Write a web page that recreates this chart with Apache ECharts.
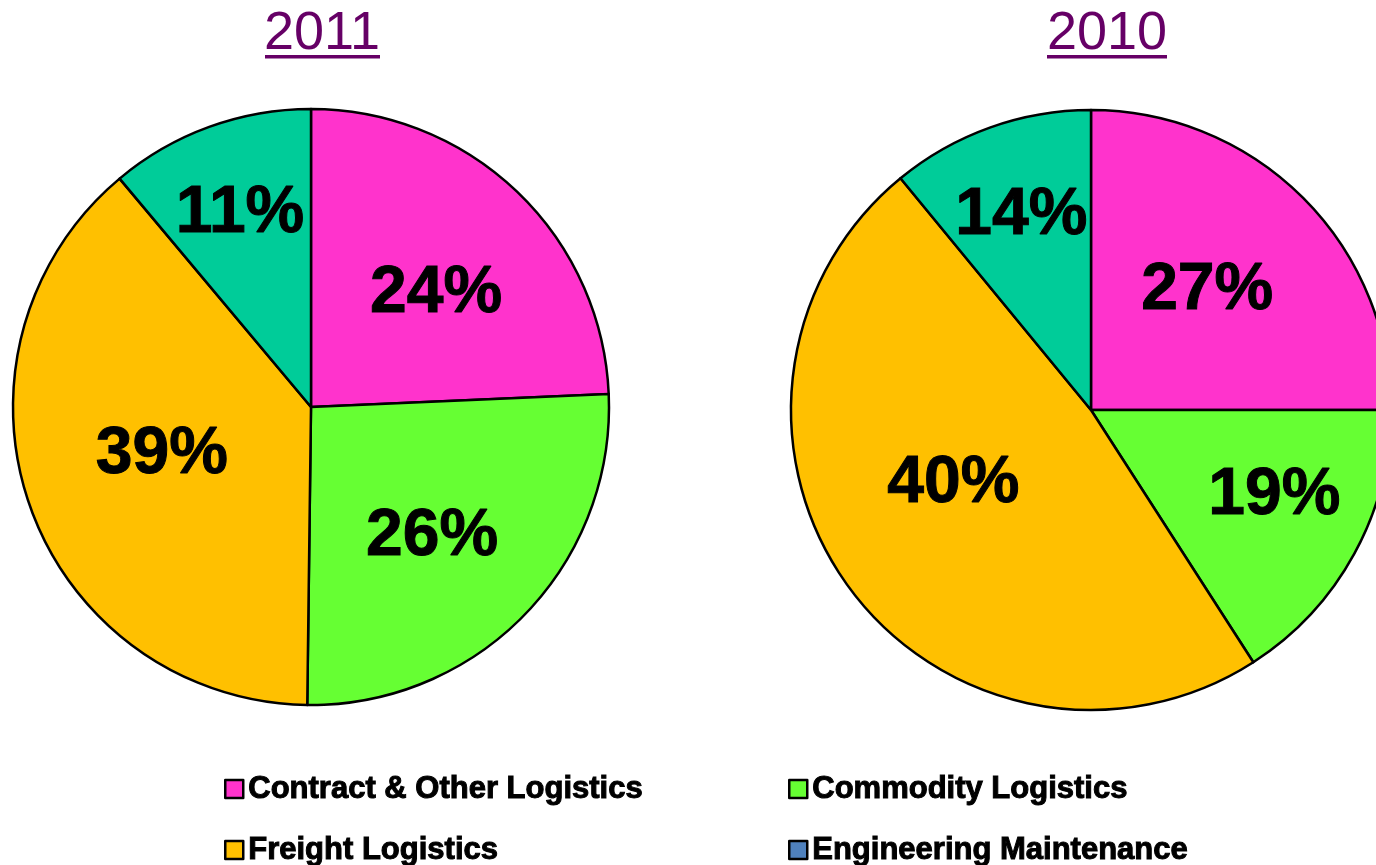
<!DOCTYPE html>
<html>
<head>
<meta charset="utf-8">
<script src="https://cdn.jsdelivr.net/npm/echarts@6/dist/echarts.min.js"></script>
<style>
html,body{margin:0;padding:0;background:#fff;}
#chart{width:1376px;height:865px;}
</style>
</head>
<body>
<div id="chart"></div>
<script>
// Categories (clockwise from 12 o'clock)
var categories = ['Contract & Other Logistics', 'Commodity Logistics', 'Freight Logistics', 'Engineering Maintenance'];
var sliceColors = ['#FF33CC', '#66FF33', '#FFC000', '#00CC99'];
var legendColors = ['#FF33CC', '#66FF33', '#FFC000', '#4F81BD'];
var titles = ['2011', '2010'];
// Slice shares as drawn in the picture
var share2011 = [24.3, 25.9, 38.7, 11.1];
var share2010 = [25, 15.9, 48.15, 10.95];
// Printed percentage labels
var labels2011 = ['24%', '26%', '39%', '11%'];
var labels2010 = ['27%', '19%', '40%', '14%'];

// label nudges (pixels) to match the original placement
var nudge2011 = [[20, -3], [12, 24], [-6, -3], [-19, -50]];
var nudge2010 = [[8, -11], [49, 13], [-14, -16], [-18, -50]];

// legend placement: [left, top] per category
var legendPos = [[224, 773], [788, 773], [224, 834], [788, 834]];

var chart = echarts.init(document.getElementById('chart'));

var FONT = 'Liberation Sans, Arial, sans-serif';

function pieSeries(shares, labels, nudge, center, radius) {
  return {
    type: 'pie',
    center: center,
    radius: radius,
    startAngle: 90,
    clockwise: true,
    avoidLabelOverlap: false,
    silent: true,
    emphasis: {disabled: true},
    itemStyle: {borderColor: '#000', borderWidth: 2.5},
    label: {
      show: true,
      position: 'inside',
      fontFamily: FONT,
      fontWeight: 'bold',
      fontSize: 66,
      color: '#000',
      textBorderColor: '#000',
      textBorderWidth: 1,
      formatter: function (p) { return labels[p.dataIndex]; }
    },
    labelLine: {show: false},
    labelLayout: function (p) {
      return {dx: nudge[p.dataIndex][0], dy: nudge[p.dataIndex][1]};
    },
    data: categories.map(function (c, i) {
      return {name: c, value: shares[i], itemStyle: {color: sliceColors[i]}};
    })
  };
}

var legendText = {
  fontFamily: FONT,
  fontWeight: 'bold',
  fontSize: 31,
  color: '#000',
  textBorderColor: '#000',
  textBorderWidth: 1
};

var legends = categories.map(function (c, i) {
  return {
    orient: 'horizontal', left: legendPos[i][0], top: legendPos[i][1],
    itemWidth: 18, itemHeight: 18, padding: 0,
    selectedMode: false,
    textStyle: legendText,
    data: [{name: c, icon: 'rect', itemStyle: {color: legendColors[i], borderColor: '#000', borderWidth: 2.5}}]
  };
});

var option = {
  animation: false,
  backgroundColor: '#fff',
  legend: legends,
  graphic: [
    {type: 'text', x: 322, y: 34, style: {text: titles[0], fontFamily: FONT, fontSize: 54, fill: '#660066', textAlign: 'center', textVerticalAlign: 'middle'}},
    {type: 'rect', shape: {x: 265, y: 55, width: 115, height: 3.5}, style: {fill: '#660066'}},
    {type: 'text', x: 1107, y: 34, style: {text: titles[1], fontFamily: FONT, fontSize: 54, fill: '#660066', textAlign: 'center', textVerticalAlign: 'middle'}},
    {type: 'rect', shape: {x: 1047, y: 55, width: 120, height: 3.5}, style: {fill: '#660066'}}
  ],
  series: [
    pieSeries(share2011, labels2011, nudge2011, [311, 407], 298),
    pieSeries(share2010, labels2010, nudge2010, [1091, 410], 300)
  ]
};
chart.setOption(option);
</script>
</body>
</html>
